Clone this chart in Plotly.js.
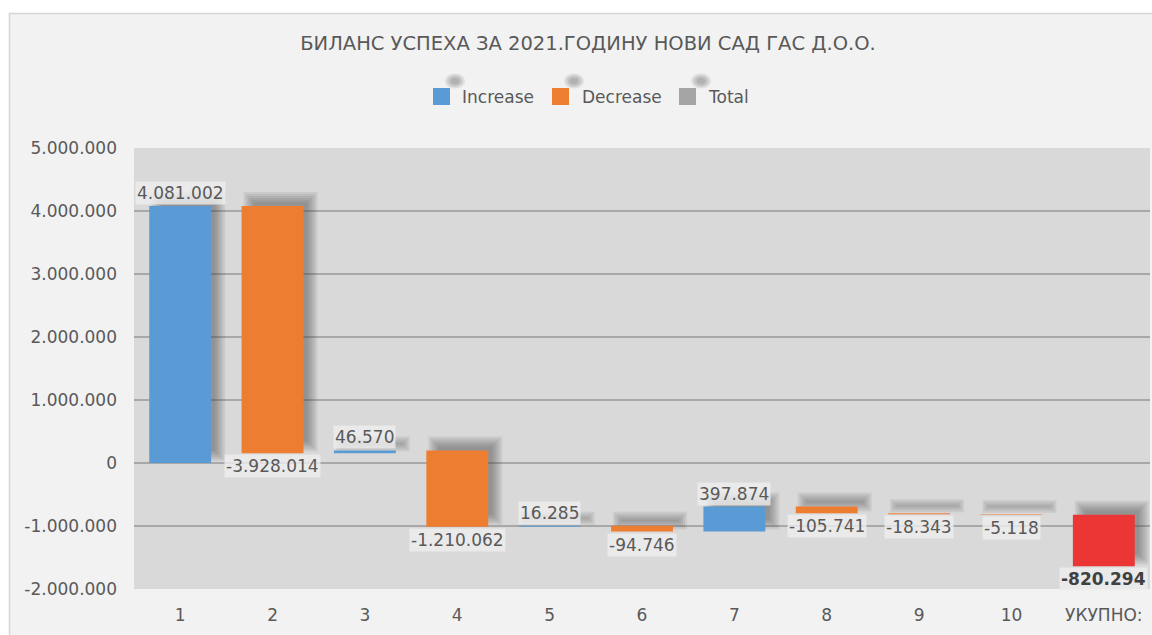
<!DOCTYPE html>
<html>
<head>
<meta charset="utf-8">
<script src="https://cdn.plot.ly/plotly-3.0.1.min.js"></script>
<style>html,body{margin:0;padding:0;background:#fff;}#chart{width:1152px;height:635px;}</style>
</head>
<body>
<div id="chart"></div>
<script>
const chartTitle = 'БИЛАНС УСПЕХА ЗА 2021.ГОДИНУ НОВИ САД ГАС Д.О.О.';
const categories = ['1','2','3','4','5','6','7','8','9','10','УКУПНО:'];
const changes = [4081002, -3928014, 46570, -1210062, 16285, -94746, 397874, -105741, -18343, -5118];
const totalValue = -820294;
const legendNames = ['Increase', 'Decrease', 'Total'];
const yTicks = [-2000000, -1000000, 0, 1000000, 2000000, 3000000, 4000000, 5000000];

const C_INC = '#5b9bd5', C_DEC = '#ed7d31', C_TOT = '#ec3636', C_LEG_TOT = '#a5a5a5';
const TXT = '#595959';
const FONT = 'DejaVu Sans';

const W = 1152, H = 635;
const M = {l: 134, r: 2, t: 148, b: 46};
const plotW = W - M.l - M.r, plotH = H - M.t - M.b;
const yRange = [-2000000, 5000000];
const unitsPerPx = (yRange[1] - yRange[0]) / plotH;
const catPx = plotW / categories.length;
const px2x = px => (px - M.l) / plotW;
const py2y = py => (H - M.b - py) / plotH;

function fmt(v) {
  const s = Math.abs(Math.round(v)).toString().replace(/\B(?=(\d{3})+(?!\d))/g, '.');
  return (v < 0 ? '-' : '') + s;
}

// waterfall geometry from data
const bars = [];
let run = 0;
changes.forEach((c, i) => {
  bars.push({x: categories[i], idx: i, base: run, val: c, kind: c >= 0 ? 'inc' : 'dec'});
  run += c;
});
// total drawn as in the source picture: extends downward from the total level
bars.push({x: categories[categories.length - 1], idx: categories.length - 1, base: totalValue, val: totalValue, kind: 'tot'});

const barWidth = 0.67;
const traces = [];

// soft drop shadows (up-right)
const shadowDx = 8, shadowDy = 8;
const layerE = [-4, -2, 0, 2, 4, 6];
layerE.forEach(e => {
  const w = barWidth + 2 * e / catPx;
  traces.push({
    type: 'bar', showlegend: false, hoverinfo: 'skip',
    x: bars.map(b => b.x),
    base: bars.map(b => Math.min(b.base, b.base + b.val) - e * unitsPerPx + shadowDy * unitsPerPx),
    y: bars.map(b => Math.max(Math.abs(b.val) + 2 * e * unitsPerPx, 0)),
    width: w,
    offset: -w / 2 + shadowDx / catPx,
    marker: {color: 'rgba(60,60,60,0.095)', line: {width: 0}}
  });
});

function mk(kind, color, name) {
  const sel = bars.filter(b => b.kind === kind);
  return {
    type: 'bar', name: name, showlegend: false, hoverinfo: 'skip',
    x: sel.map(b => b.x), base: sel.map(b => b.base), y: sel.map(b => b.val),
    width: barWidth, offset: -barWidth / 2,
    marker: {color: color, line: {width: 0}}
  };
}
traces.push(mk('inc', C_INC, legendNames[0]));
traces.push(mk('dec', C_DEC, legendNames[1]));
traces.push(mk('tot', C_TOT, legendNames[2]));

// data labels (x given as category index)
const annotations = bars.map(b => {
  const end = b.base + b.val;
  const up = b.kind === 'inc';
  return {
    x: b.idx, y: end, xref: 'x', yref: 'y',
    text: b.kind === 'tot' ? '<b>' + fmt(b.val) + '</b>' : fmt(b.val),
    showarrow: false, yanchor: up ? 'bottom' : 'top', yshift: up ? 1 : -1,
    bgcolor: 'rgba(238,238,238,0.8)', borderpad: 1,
    font: {family: FONT, size: 17, color: b.kind === 'tot' ? '#404040' : TXT}
  };
});

// manual legend
const legend = [
  {name: legendNames[0], color: C_INC, sx: 433, tx: 460},
  {name: legendNames[1], color: C_DEC, sx: 552, tx: 580},
  {name: legendNames[2], color: C_LEG_TOT, sx: 679, tx: 706}
];
const shapes = [];
legend.forEach(l => {
  [10, 8, 6, 4].forEach(r => {
    shapes.push({type: 'circle', xref: 'paper', yref: 'paper', layer: 'above',
      x0: px2x(l.sx + 22 - r), x1: px2x(l.sx + 22 + r), y0: py2y(81 + r * 0.75), y1: py2y(81 - r * 0.75),
      fillcolor: 'rgba(60,60,60,0.1)', line: {width: 0}});
  });
  shapes.push({type: 'rect', xref: 'paper', yref: 'paper', layer: 'above',
    x0: px2x(l.sx), x1: px2x(l.sx + 17), y0: py2y(105), y1: py2y(88),
    fillcolor: l.color, line: {width: 0}});
  annotations.push({xref: 'paper', yref: 'paper', x: px2x(l.tx), y: py2y(97),
    xanchor: 'left', yanchor: 'middle', showarrow: false, text: l.name,
    font: {family: FONT, size: 17, color: TXT}});
});

// outer white margin + chart frame
shapes.push({type: 'rect', xref: 'paper', yref: 'paper', layer: 'above',
  x0: px2x(-5), x1: px2x(9), y0: py2y(H + 5), y1: py2y(-5), fillcolor: '#ffffff', line: {width: 0}});
shapes.push({type: 'rect', xref: 'paper', yref: 'paper', layer: 'above',
  x0: px2x(-5), x1: px2x(W + 5), y0: py2y(13), y1: py2y(-5), fillcolor: '#ffffff', line: {width: 0}});
shapes.push({type: 'line', xref: 'paper', yref: 'paper', layer: 'above',
  x0: px2x(9.5), x1: px2x(9.5), y0: py2y(13), y1: py2y(H + 5), line: {color: '#d6d6d6', width: 1.5}});
shapes.push({type: 'line', xref: 'paper', yref: 'paper', layer: 'above',
  x0: px2x(9), x1: px2x(W + 5), y0: py2y(13.5), y1: py2y(13.5), line: {color: '#d6d6d6', width: 1.5}});

const layout = {
  width: W, height: H,
  margin: M,
  paper_bgcolor: '#f2f2f2',
  plot_bgcolor: '#d9d9d9',
  barmode: 'overlay',
  showlegend: false,
  title: {text: chartTitle, x: 588 / W, xanchor: 'center', y: 1 - 43 / H, yanchor: 'middle',
    font: {family: FONT, size: 19.5, color: TXT}},
  xaxis: {type: 'category', categoryorder: 'array', categoryarray: categories,
    range: [-0.5, categories.length - 0.5], showgrid: false, zeroline: false, showline: false,
    ticks: '', ticklabelstandoff: 14, tickfont: {family: FONT, size: 17, color: TXT}, fixedrange: true},
  yaxis: {range: yRange, tickvals: yTicks, ticktext: yTicks.map(fmt),
    showgrid: true, gridcolor: '#a8a8a8', gridwidth: 1.5,
    zeroline: true, zerolinecolor: '#a8a8a8', zerolinewidth: 1.5, showline: false,
    ticks: '', ticklabelstandoff: 16, tickfont: {family: FONT, size: 17, color: TXT}, fixedrange: true},
  annotations: annotations,
  shapes: shapes
};

Plotly.newPlot('chart', traces, layout, {displayModeBar: false, staticPlot: true});
</script>
</body>
</html>
